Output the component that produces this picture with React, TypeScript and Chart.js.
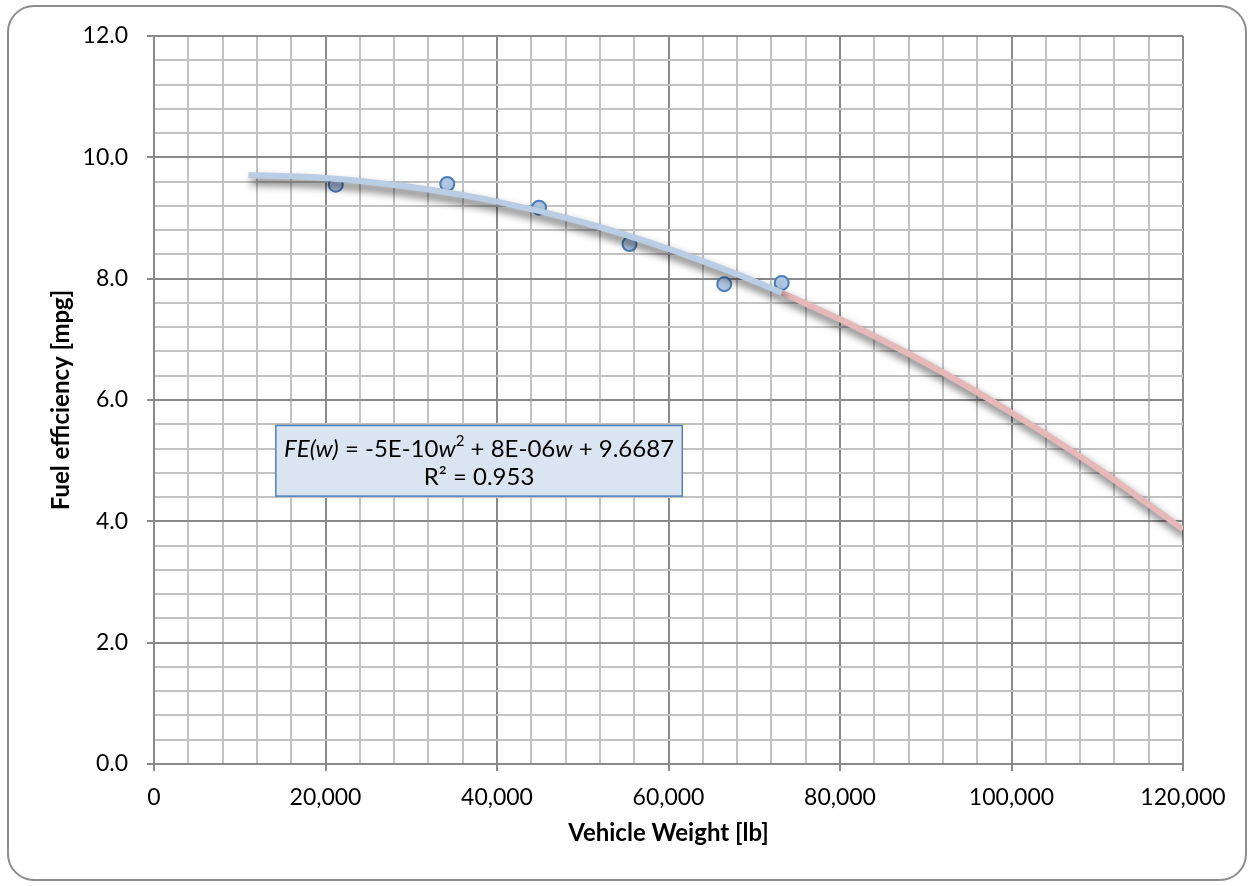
import React, { useEffect, useRef } from "react";
import { Chart, registerables } from "chart.js";

Chart.register(...registerables);

// Measured data points
const weights = [21200, 34200, 44900, 55450, 66500, 73200];
const efficiency = [9.55, 9.56, 9.17, 8.57, 7.91, 7.93];

// Trendline: fitted part and forecast part
const trendWeights = [11000, 20000, 30000, 40000, 50000, 60000, 70000, 73200];
const trendValues = [9.71, 9.66, 9.51, 9.27, 8.93, 8.49, 7.96, 7.77];
const forecastWeights = [73200, 80000, 90000, 100000, 110000, 120000];
const forecastValues = [7.77, 7.33, 6.61, 5.79, 4.88, 3.87];

// Axis ticks
const xMin = 0, xMax = 120000, xMinorStep = 4000, xMajorStep = 20000;
const yMin = 0, yMax = 12, yMinorStep = 0.4, yMajorStep = 2;

const equationParts = [
  { t: "FE(w)", style: "italic" },
  { t: " = -5E-10", style: "normal" },
  { t: "w", style: "italic" },
  { t: "2", style: "sup" },
  { t: " + 8E-06", style: "normal" },
  { t: "w", style: "italic" },
  { t: " + 9.6687", style: "normal" },
];
const rSquaredText = "R\u00B2 = 0.953";

const FONT = "Lato, 'Open Sans', sans-serif";
const MAJOR = "#8a8a8a";
const MINOR = "#c2c2c2";

const isMajor = (v: number, step: number) => Math.abs(v / step - Math.round(v / step)) < 1e-6;

const framePlugin = {
  id: "frame",
  beforeDraw(chart: any) {
    const ctx = chart.ctx;
    ctx.save();
    ctx.fillStyle = "#ffffff";
    ctx.fillRect(0, 0, chart.width, chart.height);
    const x = 8, y = 6, w = 1238, h = 874, r = 26;
    ctx.beginPath();
    ctx.moveTo(x + r, y);
    ctx.lineTo(x + w - r, y);
    ctx.arcTo(x + w, y, x + w, y + r, r);
    ctx.lineTo(x + w, y + h - r);
    ctx.arcTo(x + w, y + h, x + w - r, y + h, r);
    ctx.lineTo(x + r, y + h);
    ctx.arcTo(x, y + h, x, y + h - r, r);
    ctx.lineTo(x, y + r);
    ctx.arcTo(x, y, x + r, y, r);
    ctx.closePath();
    ctx.strokeStyle = "#8c8c8c";
    ctx.lineWidth = 2;
    ctx.stroke();
    ctx.restore();
  },
};

const shadowPlugin = {
  id: "lineShadow",
  beforeDatasetDraw(chart: any, args: any) {
    const ds = chart.data.datasets[args.index];
    if (!ds._shadow) return;
    const ctx = chart.ctx;
    ctx.save();
    ctx.shadowColor = "rgba(0,0,0,0.65)";
    ctx.shadowBlur = 8;
    ctx.shadowOffsetX = 3;
    ctx.shadowOffsetY = 6;
  },
  afterDatasetDraw(chart: any, args: any) {
    const ds = chart.data.datasets[args.index];
    if (!ds._shadow) return;
    chart.ctx.restore();
  },
};

const equationPlugin = {
  id: "equationBox",
  afterDatasetsDraw(chart: any) {
    const { ctx, chartArea: a } = chart;
    const W = a.right - a.left, H = a.bottom - a.top;
    const bx = a.left + W * 0.1184;
    const by = a.top + H * 0.535;
    const bw = W * 0.395;
    const bh = H * 0.097;
    ctx.save();
    ctx.fillStyle = "#dbe5f1";
    ctx.fillRect(bx, by, bw, bh);
    ctx.strokeStyle = "#4f81bd";
    ctx.lineWidth = 1.5;
    ctx.strokeRect(bx, by, bw, bh);
    const size = 24;
    const fontFor = (s: string) =>
      s === "italic" ? `italic ${size}px ${FONT}` : s === "sup" ? `${Math.round(size * 0.62)}px ${FONT}` : `${size}px ${FONT}`;
    let total = 0;
    const widths = equationParts.map((p) => {
      ctx.font = fontFor(p.style);
      const w = ctx.measureText(p.t).width;
      total += w;
      return w;
    });
    const cx = bx + bw / 2;
    const line1 = by + bh * 0.33;
    const line2 = by + bh * 0.74;
    ctx.fillStyle = "#000000";
    ctx.textBaseline = "middle";
    ctx.textAlign = "left";
    let x = cx - total / 2;
    equationParts.forEach((p, i) => {
      ctx.font = fontFor(p.style);
      ctx.fillText(p.t, x, p.style === "sup" ? line1 - size * 0.32 : line1);
      x += widths[i];
    });
    ctx.font = `${size}px ${FONT}`;
    ctx.textAlign = "center";
    ctx.fillText(rSquaredText, cx, line2);
    ctx.restore();
  },
};

export default function App() {
  const ref = useRef<HTMLCanvasElement | null>(null);
  useEffect(() => {
    if (!ref.current) return;
    const chart = new Chart(ref.current, {
      type: "scatter",
      data: {
        datasets: [
          {
            label: "Trend",
            data: trendWeights.map((w, i) => ({ x: w, y: trendValues[i] })),
            showLine: true,
            borderColor: "#b9cde5",
            borderWidth: 6,
            pointRadius: 0,
            cubicInterpolationMode: "monotone",
            order: 1,
            _shadow: true,
          } as any,
          {
            label: "Forecast",
            data: forecastWeights.map((w, i) => ({ x: w, y: forecastValues[i] })),
            showLine: true,
            borderColor: "#e6b9b8",
            borderWidth: 6,
            pointRadius: 0,
            cubicInterpolationMode: "monotone",
            order: 1,
            _shadow: true,
          } as any,
          {
            label: "Data",
            data: weights.map((w, i) => ({ x: w, y: efficiency[i] })),
            pointRadius: 7,
            pointBackgroundColor: "#b0c6e0",
            pointBorderColor: "#4a7ebb",
            pointBorderWidth: 2,
            order: 2,
          },
        ],
      },
      options: {
        responsive: false,
        animation: false,
        devicePixelRatio: 1,
        layout: { padding: { left: 20, right: 71, top: 36, bottom: 0 } },
        plugins: { legend: { display: false }, tooltip: { enabled: false } },
        scales: {
          x: {
            type: "linear",
            min: xMin,
            max: xMax,
            afterFit: (s: any) => { s.height = 122; },
            ticks: {
              stepSize: xMinorStep,
              autoSkip: false,
              maxRotation: 0,
              padding: 13,
              color: "#000000",
              font: { family: FONT, size: 23 },
              callback: (v: any) => (isMajor(Number(v), xMajorStep) ? Number(v).toLocaleString("en-US") : ""),
            },
            grid: {
              lineWidth: 2,
              color: (c: any) => (isMajor(c.tick.value, xMajorStep) ? MAJOR : MINOR),
              tickColor: (c: any) => (isMajor(c.tick.value, xMajorStep) ? MAJOR : "rgba(0,0,0,0)"),
              tickLength: 7,
            },
            border: { display: true, color: MAJOR, width: 2 },
            title: {
              display: true,
              text: "Vehicle Weight [lb]",
              color: "#000000",
              font: { family: FONT, size: 24, weight: "bold" },
              padding: { top: 0, bottom: 38 },
            },
          },
          y: {
            type: "linear",
            min: yMin,
            max: yMax,
            afterFit: (s: any) => { s.width = 134; },
            ticks: {
              stepSize: yMinorStep,
              autoSkip: false,
              padding: 19,
              color: "#000000",
              font: { family: FONT, size: 23 },
              callback: (v: any) => (isMajor(Number(v), yMajorStep) ? Number(v).toFixed(1) : ""),
            },
            grid: {
              lineWidth: 2,
              color: (c: any) => (isMajor(c.tick.value, yMajorStep) ? MAJOR : MINOR),
              tickColor: (c: any) => (isMajor(c.tick.value, yMajorStep) ? MAJOR : "rgba(0,0,0,0)"),
              tickLength: 7,
            },
            border: { display: true, color: MAJOR, width: 2 },
            title: {
              display: true,
              text: "Fuel efficiency [mpg]",
              color: "#000000",
              font: { family: FONT, size: 24, weight: "bold" },
              padding: { top: 27, bottom: 0 },
            },
          },
        },
      } as any,
      plugins: [framePlugin, shadowPlugin, equationPlugin],
    });
    return () => chart.destroy();
  }, []);
  return (
    <div style={{ position: "absolute", left: 0, top: 0, width: 1254, height: 886 }}>
      <canvas ref={ref} width={1254} height={886} style={{ display: "block" }} />
    </div>
  );
}
